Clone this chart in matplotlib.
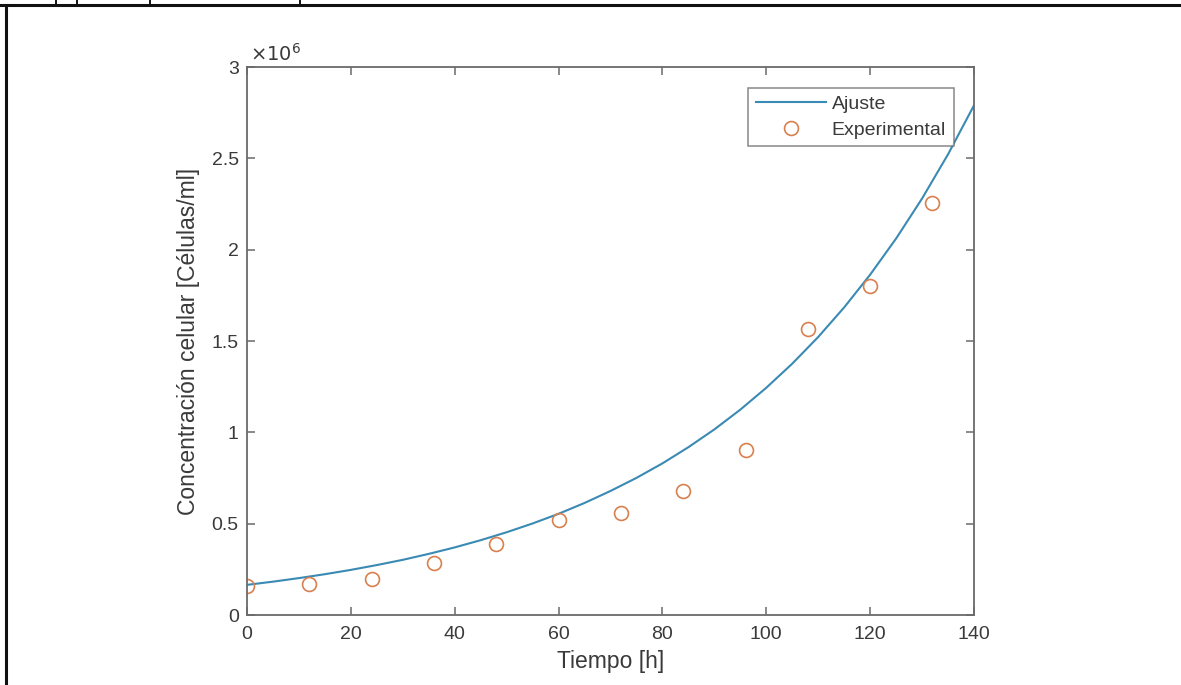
import matplotlib
matplotlib.use("Agg")
import matplotlib.pyplot as plt
from matplotlib.lines import Line2D
from matplotlib.ticker import FuncFormatter, MultipleLocator

plt.rcParams['font.family'] = ['Liberation Sans', 'DejaVu Sans']

# Experimental data (time [h], concentration [cells/ml])
t_exp = [0, 12, 24, 36, 48, 60, 72, 84, 96, 108, 120, 132]
c_exp = [0.158e6, 0.169e6, 0.197e6, 0.284e6, 0.388e6, 0.519e6, 0.557e6,
         0.678e6, 0.902e6, 1.568e6, 1.803e6, 2.257e6]

# Fitted curve
t_fit = [0, 5, 10, 15, 20, 25, 30, 35, 40, 45, 50, 55, 60, 65, 70,
         75, 80, 85, 90, 95, 100, 105, 110, 115, 120, 125, 130, 135, 140]
c_fit = [0.165e6, 0.1825e6, 0.202e6, 0.2234e6, 0.247e6, 0.2734e6, 0.302e6,
         0.3346e6, 0.370e6, 0.4095e6, 0.453e6, 0.5011e6, 0.554e6, 0.6133e6,
         0.679e6, 0.7506e6, 0.830e6, 0.9186e6, 1.016e6, 1.1243e6, 1.244e6,
         1.3759e6, 1.522e6, 1.684e6, 1.863e6, 2.061e6, 2.280e6, 2.522e6,
         2.790e6]

W, H = 1181, 685
fig = plt.figure(figsize=(W / 100, H / 100), dpi=100)
ax = fig.add_axes([247 / W, 1 - 615 / H, (974 - 247) / W, (615 - 67) / H])

line_col = '#3a8ab3'
mark_col = '#d9804f'
axis_col = '#6a6a6a'
text_col = '#3a3a3a'

ax.plot(t_fit, c_fit, color=line_col, lw=1.5, label='Ajuste')
ax.plot(t_exp, c_exp, linestyle='none', marker='o', ms=10, mfc='none',
        mec=mark_col, mew=1.2, label='Experimental')

ax.set_xlim(0, 140)
ax.set_ylim(0, 3e6)
ax.xaxis.set_major_locator(MultipleLocator(20))
ax.yaxis.set_major_locator(MultipleLocator(0.5e6))
ax.yaxis.set_major_formatter(FuncFormatter(lambda v, p: f"{v / 1e6:g}"))

for s in ax.spines.values():
    s.set_color(axis_col)
    s.set_linewidth(1.3)
ax.tick_params(direction='in', length=6, width=1.1, color=axis_col,
               top=True, right=True, labelsize=14, labelcolor=text_col,
               pad=6)
ax.tick_params(axis='x', pad=8)

ax.set_xlabel('Tiempo [h]', fontsize=16.5, color=text_col, labelpad=5)
ax.set_ylabel('Concentración celular [Células/ml]', fontsize=16.5,
              color=text_col, labelpad=8)

ax.text(0.004, 1.004, r'$\times 10^{6}$', transform=ax.transAxes,
        fontsize=14, color=text_col, ha='left', va='bottom',
        math_fontfamily='dejavusans')

leg = ax.legend(loc='upper right', bbox_to_anchor=(0.972, 0.962),
                fontsize=14, frameon=True, fancybox=False,
                edgecolor=axis_col, handlelength=3.6, handletextpad=0.3,
                borderpad=0.4, labelspacing=0.4, borderaxespad=0)
leg.get_frame().set_linewidth(1.1)
for txt in leg.get_texts():
    txt.set_color(text_col)

# Outer page frame lines
fig.add_artist(Line2D([0, 1], [1 - 5 / H, 1 - 5 / H], color='#111111',
                      lw=2.2, transform=fig.transFigure))
fig.add_artist(Line2D([5.5 / W, 5.5 / W], [0, 1 - 5 / H], color='#111111',
                      lw=2.2, transform=fig.transFigure))
for xp in [56, 77, 150, 300]:
    fig.add_artist(Line2D([xp / W, xp / W], [1 - 5 / H, 1], color='#111111',
                          lw=1.4, transform=fig.transFigure))

fig.savefig('out.png', dpi=100, facecolor='white')
